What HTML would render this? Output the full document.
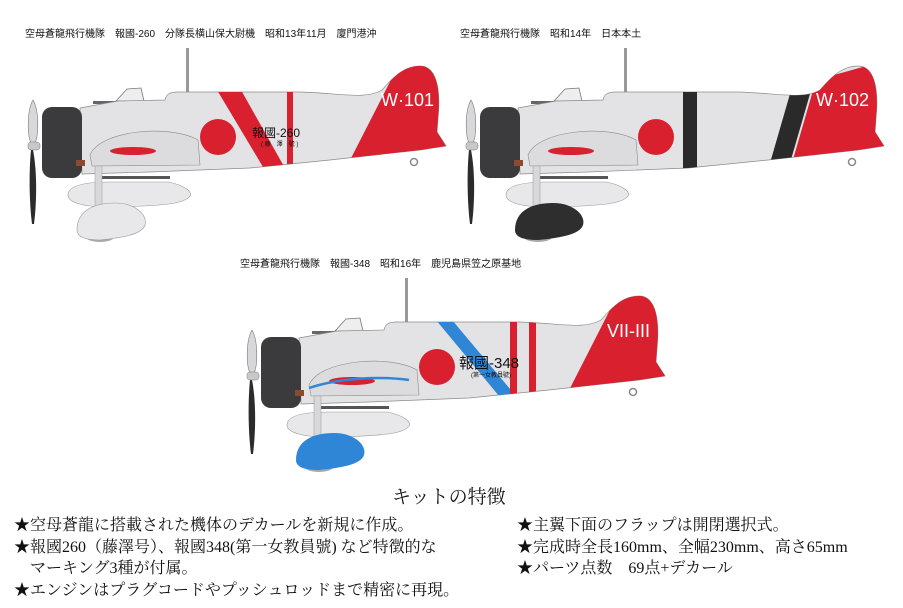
<!DOCTYPE html>
<html><head><meta charset="utf-8"><style>
html,body{margin:0;padding:0;background:#fff;width:903px;height:608px;overflow:hidden}
.t{font-family:"Liberation Sans","Noto Sans CJK JP",sans-serif;fill:#111}
.b{position:absolute;font-family:"Liberation Serif","Noto Serif CJK SC",serif;font-size:16px;color:#111;white-space:pre;line-height:1}
</style></head><body>
<svg width="903" height="608" style="position:absolute;left:0;top:0">
<defs>
<path id="fp" d="M80,108 L118,101 L165,100 C166,94 170,92 178,92 L300,92 C340,93 365,100 382,90 C395,75 405,66 420,66 C436,66 441,88 438,118 L437,132 L446,146 L420,150 L330,160 L250,168 L150,172 L82,174 Z"/>
<clipPath id="fc" clipPathUnits="userSpaceOnUse"><use href="#fp"/></clipPath>
<g id="base">
 <rect x="186" y="48" width="3" height="46" fill="#999"/>
 <path d="M116,101 L127,89 L141,88 L144,101 Z" fill="#eee" stroke="#777" stroke-width="0.8"/>
 <rect x="93" y="101" width="28" height="3" fill="#666"/>
 <use href="#fp" fill="#e3e3e6" stroke="#8a8a8a" stroke-width="0.7"/>
 <path d="M90,155 C100,130 170,124 198,140 L200,165 L92,166 Z" fill="#dcdcdf" stroke="#8a8a8a" stroke-width="0.6"/>
 <rect x="96" y="176" width="74" height="3" fill="#555"/>
 <path d="M68,195 C68,184 90,182 110,182 L168,182 C184,185 193,192 190,196 C185,203 170,206 110,207 C85,207 68,203 68,195Z" fill="#e8e8ea" stroke="#999" stroke-width="0.6"/>
 <rect x="95" y="166" width="7" height="40" fill="#d8d8da" stroke="#999" stroke-width="0.5"/>
 <ellipse cx="100" cy="236" rx="15" ry="6" fill="#aaa"/>
 <circle cx="414" cy="162" r="3.5" fill="none" stroke="#888" stroke-width="1.5"/>
 <rect x="42" y="107" width="40" height="71" rx="10" fill="#3b3b3d"/>
 <rect x="76" y="160" width="9" height="6" fill="#8a4b30"/>
 <path d="M33,100 C39,110 39,135 35,143 L31,143 C27,135 27,110 33,100Z" fill="#d8d8da" stroke="#777" stroke-width="0.6"/>
 <path d="M33,150 C37,170 37,200 34,224 L32,224 C29,200 29,170 31,150Z" fill="#2b2b2b"/>
 <rect x="28" y="142" width="12" height="8" rx="3" fill="#c8c8ca" stroke="#777" stroke-width="0.5"/>
 <circle cx="218" cy="137" r="18" fill="#d8202f"/>
</g>
</defs>

<g>
 <use href="#base"/>
 <g clip-path="url(#fc)" fill="#d8202f">
  <polygon points="217,90 241,90 286,170 266,172"/>
  <rect x="287" y="90" width="6" height="80"/>
  <polygon points="345,170 396,70 450,60 450,175"/>
 </g>
 <ellipse cx="133" cy="151" rx="23" ry="4" fill="#d8202f"/>
 <path d="M77,230 C77,210 95,203 115,203 C135,203 148,215 145,225 C142,235 120,238 100,240 C85,240 77,237 77,230Z" fill="#e8e8ea" stroke="#999" stroke-width="0.6"/>
 <text x="381" y="106" font-family="Liberation Sans,sans-serif" font-size="18" fill="#fff">W·101</text>
 <text x="252" y="137" class="t" style="font-size:12px">報國-260</text>
 <text x="261" y="146" class="t" style="font-size:6px">( 藤　澤　號 )</text>
</g>

<g transform="translate(438,0)">
 <use href="#base"/>
 <g clip-path="url(#fc)">
  <rect x="245" y="90" width="14" height="85" fill="#2a2a2a"/>
  <polygon points="330,170 356,80 376,80 350,170" fill="#2a2a2a"/>
  <polygon points="352,170 378,80 450,60 450,175" fill="#d8202f"/>
 </g>
 <ellipse cx="133" cy="151" rx="23" ry="4" fill="#d8202f"/>
 <path d="M77,230 C77,210 95,203 115,203 C135,203 148,215 145,225 C142,235 120,238 100,240 C85,240 77,237 77,230Z" fill="#2e2e2e"/>
 <text x="378" y="106" font-family="Liberation Sans,sans-serif" font-size="18" fill="#fff">W·102</text>
</g>

<g transform="translate(219,230)">
 <use href="#base"/>
 <g clip-path="url(#fc)">
  <polygon points="217,90 233,90 302,172 285,172" fill="#2f86d6"/>
  <rect x="291" y="90" width="7" height="85" fill="#d8202f"/>
  <rect x="310" y="90" width="7" height="85" fill="#d8202f"/>
  <polygon points="345,170 396,70 450,60 450,175" fill="#d8202f"/>
 </g>
 <ellipse cx="133" cy="151" rx="23" ry="4" fill="#d8202f"/>
 <path d="M90,158 C120,148 160,146 190,150" stroke="#2f86d6" stroke-width="2.5" fill="none"/>
 <path d="M77,230 C77,210 95,203 115,203 C135,203 148,215 145,225 C142,235 120,238 100,240 C85,240 77,237 77,230Z" fill="#2f86d6"/>
 <text x="388" y="107" font-family="Liberation Sans,sans-serif" font-size="18" fill="#fff">VII-III</text>
 <text x="240" y="138" class="t" style="font-size:15px">報國-348</text>
 <text x="252" y="147" class="t" style="font-size:6px">(第一女教員號)</text>
</g>

<text x="25" y="37" class="t" style="font-size:10px">空母蒼龍飛行機隊　報國-260　分隊長横山保大尉機　昭和13年11月　廈門港沖</text>
<text x="460" y="37" class="t" style="font-size:10px">空母蒼龍飛行機隊　昭和14年　日本本土</text>
<text x="240" y="267" class="t" style="font-size:10px">空母蒼龍飛行機隊　報國-348　昭和16年　鹿児島県笠之原基地</text>
</svg>
<div class="b" style="left:392px;top:488px;font-size:19px">キットの特徴</div>
<div class="b" style="left:14px;top:518px">★空母蒼龍に搭載された機体のデカールを新規に作成。</div>
<div class="b" style="left:14px;top:540px">★報國260（藤澤号）、報國348(第一女教員號) など特徴的な</div>
<div class="b" style="left:14px;top:561px">　マーキング3種が付属。</div>
<div class="b" style="left:14px;top:583px">★エンジンはプラグコードやプッシュロッドまで精密に再現。</div>
<div class="b" style="left:517px;top:518px">★主翼下面のフラップは開閉選択式。</div>
<div class="b" style="left:517px;top:540px">★完成時全長160mm、全幅230mm、高さ65mm</div>
<div class="b" style="left:517px;top:561px">★パーツ点数　69点+デカール</div>
</body></html>
